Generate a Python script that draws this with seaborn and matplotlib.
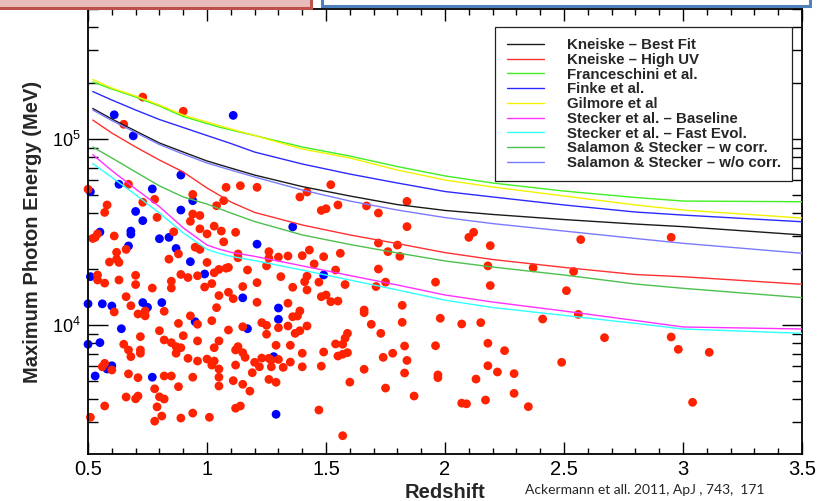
import numpy as np
import pandas as pd
import matplotlib
matplotlib.use("Agg")
import matplotlib.pyplot as plt
import seaborn as sns
from matplotlib.ticker import LogLocator, MultipleLocator, FuncFormatter, NullFormatter
from matplotlib.patches import Rectangle

# EBL model curves: maximum photon energy (MeV) vs redshift
z_grid = [0.52, 0.6, 0.7, 0.8, 0.9, 1.0, 1.05, 1.1, 1.2, 1.4, 1.6, 1.8, 2.0, 2.2, 2.5, 2.8, 3.0, 3.5]

kneiske_best = [145900, 128100, 110400, 95200, 85100, 76200, 72900, 69800, 64000,
                55500, 49400, 44400, 41300, 39300, 36900, 34900, 33800, 30500]
kneiske_high_uv = [126500, 107700, 90600, 77100, 66500, 54500, 50000, 45850, 40300,
                   34500, 30500, 27400, 24500, 22500, 20400, 18680, 18180, 16550]
franceschini = [202500, 185700, 168200, 150400, 132100, 121100, 116000, 111800, 104400,
                90600, 81000, 71100, 63300, 58000, 52500, 48500, 46400, 46000]
finke = [180000, 162100, 143200, 127300, 115300, 104400, 99400, 94600, 85100,
         73400, 64800, 58000, 52200, 48800, 44200, 40500, 39000, 35900]
gilmore = [208900, 188000, 170300, 152300, 134600, 123400, 118200, 113200, 104400,
           88400, 79100, 68100, 60200, 55200, 49400, 44200, 41500, 37600]
stecker_base = [82400, 67600, 53900, 43300, 33300, 26900, 25600, 24600, 23400,
                20800, 18450, 16410, 14500, 13290, 11890, 10570, 9760, 9520]
stecker_fast = [73800, 62200, 50200, 40000, 31300, 25500, 24300, 23400, 22200,
                19730, 17460, 15430, 13600, 12420, 11260, 10200, 9520, 9020]
salamon_w = [90600, 79100, 66500, 56000, 48800, 44700, 42300, 40000, 36000,
             30500, 27100, 24400, 22100, 20500, 18570, 16610, 15750, 14030]
salamon_wo = [143200, 125700, 108400, 93400, 83000, 74300, 71100, 68100, 62500,
              53200, 46400, 41500, 37800, 35100, 32000, 29200, 27500, 24300]

models = ["Kneiske \u2013 Best Fit", "Kneiske \u2013 High UV", "Franceschini et al.",
          "Finke et al.", "Gilmore et al", "Stecker et al. \u2013 Baseline",
          "Stecker et al. \u2013 Fast Evol.", "Salamon & Stecker \u2013 w corr.",
          "Salamon & Stecker \u2013 w/o corr."]
model_values = [kneiske_best, kneiske_high_uv, franceschini, finke, gilmore,
                stecker_base, stecker_fast, salamon_w, salamon_wo]
model_colors = ["#1a1a1a", "#ff3030", "#40f020", "#2a2aff", "#f2f200",
                "#ff30ff", "#30ffff", "#4cc04c", "#7a7aff"]

# blazars (blue) and other sources (red): redshift and highest photon energy (MeV)
blue_z = [0.61, 0.69, 1.11, 0.89, 0.51, 0.63, 0.77, 0.70, 0.73, 0.89,
          0.94, 1.21, 0.80, 0.84, 0.68, 0.68, 0.55, 0.67, 0.87, 0.93,
          0.99, 0.51, 1.15, 0.50, 0.56, 0.60, 0.73, 0.75, 0.81, 0.64,
          0.50, 0.55, 0.95, 1.17, 0.60, 0.58, 0.53, 0.77, 1.36, 1.49,
          1.30, 1.30, 1.28, 1.29]
blue_E = [135000, 104000, 134000, 64000, 52100, 57100, 53900, 40800, 36400, 41500,
          46600, 27200, 29100, 29600, 32000, 30800, 31600, 26600, 25800, 21900,
          18800, 18200, 14000, 13000, 13000, 12650, 13200, 12450, 13200, 9550,
          7880, 8040, 10420, 9550, 6040, 5800, 5320, 5240, 33700, 18570,
          12340, 10730, 6760, 3310]

red_z = [
    # top
    0.73, 0.90, 0.65,
    # z < 1.25, upper
    0.50, 0.67, 0.78, 0.73, 0.58, 0.57, 0.79, 0.94, 1.08, 1.14,
    1.21, 1.07, 1.04, 0.94, 0.97, 0.93, 0.97, 1.03, 1.00, 1.06,
    1.12, 1.07, 0.86, 0.54, 0.52, 0.53, 0.61, 0.66, 0.62, 0.62,
    0.59, 0.63, 0.84, 0.88, 0.95, 0.97, 1.00, 1.13, 1.13, 1.17,
    1.03, 1.05, 1.08, 1.09, 0.96, 0.92, 0.89, 0.70, 0.70, 0.63,
    0.54, 0.54, 0.57, 0.85, 0.85, 0.77, 0.99, 1.02, 1.05, 1.09,
    1.15, 1.11, 1.21, 1.21, 0.66,
    # z < 1.25, lower
    0.61, 0.68, 0.74, 0.74, 0.71, 0.82, 0.65, 0.67, 0.68, 0.72,
    0.72, 0.72, 0.80, 0.88, 0.93, 0.96, 1.04, 1.02, 0.90, 0.82,
    0.85, 0.87, 0.89, 0.87, 0.96, 1.05, 1.03, 1.09, 1.15, 1.23,
    1.25, 1.25, 1.12, 1.13, 1.15, 1.16, 1.12, 1.20, 1.23, 1.26,
    1.22, 1.19, 0.92, 0.96, 1.00, 1.02, 1.03, 1.05, 1.05, 1.05,
    1.11, 1.15, 1.18, 1.26, 0.57, 0.56, 0.60, 0.67, 0.71, 0.82,
    0.85, 0.78, 0.88, 0.94, 0.80, 0.82, 0.66, 0.70, 0.71, 0.57,
    0.79, 0.51, 0.78, 0.81, 0.89, 0.94, 1.01, 1.12, 1.14,
    # 1.25 < z < 2, upper
    1.52, 1.42, 1.39, 1.50, 1.48, 1.55, 1.67, 1.72, 1.84, 1.84,
    1.72, 1.80, 1.76, 1.81, 1.26, 1.26, 1.30, 1.34, 1.40, 1.43,
    1.49, 1.56, 1.25, 1.45, 1.31, 1.54, 1.42, 1.41, 1.42, 1.36,
    1.47, 1.58, 1.72, 1.75, 1.71, 1.96, 1.48, 1.50, 1.52, 1.55,
    1.34, 1.82,
    # 1.25 < z < 2, lower
    1.36, 1.38, 1.39, 1.66, 1.66, 1.82, 1.98, 1.69, 1.73, 1.59,
    1.58, 1.57, 1.54, 1.59, 1.57, 1.55, 1.49, 1.48, 1.30, 1.34,
    1.37, 1.39, 1.42, 1.29, 1.35, 1.40, 1.27, 1.30, 1.27, 1.35,
    1.32, 1.40, 1.29, 1.60, 1.66, 1.74, 1.78, 1.83, 1.84, 1.83,
    1.75, 1.87, 1.96, 1.97, 1.97, 1.47, 1.57,
    # z > 2
    2.10, 2.12, 2.19, 2.57, 2.18, 2.37, 2.54, 2.19, 2.51, 2.07,
    2.15, 2.41, 2.56, 2.67, 2.18, 2.25, 2.49, 2.18, 2.22, 2.29,
    2.13, 2.29, 2.17, 2.07, 2.09, 2.35, 2.95, 2.95, 2.98, 3.11,
    3.04,
]
red_E = [
    168000, 141000, 120000,
    53700, 57100, 47400, 45700, 44200, 40300, 37900, 50400, 55000, 56100,
    55000, 46600, 43800, 39500, 38800, 36100, 32900, 34000, 30900, 32000,
    31500, 28000, 31700, 30900, 29200, 29600, 30100, 25500, 24600, 22600,
    21800, 21700, 22600, 24100, 26200, 25500, 21700, 24100, 23000, 19760,
    19100, 19900, 20200, 20400, 18400, 18000, 18700, 18500, 16500, 17460,
    18570, 17460, 16800, 17200, 15800, 15800, 16000, 16700, 14400, 15000,
    16100, 13850, 16900, 13250, 14200,
    11750, 12700, 11900, 11200, 11460, 11850, 7880, 7340, 6760, 8660,
    7340, 7050, 9320, 10200, 11200, 10090, 12400, 10550, 8760, 8310,
    8040, 7650, 7550, 7050, 8210, 8210, 7550, 9400, 9790, 10300,
    9960, 8920, 7340, 7650, 7100, 6700, 6090, 6300, 6640, 6620,
    5960, 5540, 6620, 6400, 6560, 6090, 6400, 5800, 5240, 4700,
    5020, 4800, 4410, 5100, 6220, 5960, 5730, 5460, 5210, 5320,
    5320, 4540, 4660, 5240, 4110, 4000, 4100, 4010, 4150, 3670,
    3630, 3190, 3040, 3240, 3160, 3360, 3190, 3570, 3670,
    56800, 51900, 48800, 42200, 41300, 44200, 43700, 40000, 46200, 33800,
    27600, 26900, 24800, 23400, 24800, 22900, 23200, 23500, 23600, 25300,
    23300, 24300, 20800, 21300, 18200, 19760, 18300, 17100, 15430, 15950,
    17000, 16500, 20000, 17000, 16100, 17000, 14200, 14500, 13350, 13450,
    13100, 12760,
    11080, 11180, 11900, 12040, 11650, 10340, 10870, 10090, 9020, 9020,
    8490, 7880, 7910, 7100, 6960, 6810, 7160, 6010, 9670, 9880,
    9020, 9320, 9880, 7780, 7780, 7050, 6480, 6530, 5960, 6320,
    5920, 5960, 4920, 4930, 5780, 6700, 7050, 7710, 6450, 5520,
    4580, 4150, 7740, 5390, 5210, 3490, 2540,
    29600, 31500, 26700, 28800, 20800, 20300, 19400, 16300, 15300, 10130,
    10300, 10770, 11400, 8550, 7980, 7280, 6300, 6040, 5590, 5480,
    5120, 4290, 3950, 3800, 3770, 3640, 29600, 8620, 7400, 7130,
    3840,
]

sns.set_theme(style="ticks")
plt.rcParams['font.family'] = ['Liberation Sans', 'DejaVu Sans']
plt.rcParams['axes.edgecolor'] = 'black'
plt.rcParams['xtick.color'] = 'black'
plt.rcParams['ytick.color'] = 'black'

points = pd.concat([
    pd.DataFrame({'z': blue_z, 'E': blue_E, 'kind': 'blue'}),
    pd.DataFrame({'z': red_z, 'E': red_E, 'kind': 'red'}),
], ignore_index=True)

curves = pd.concat([
    pd.DataFrame({'z': z_grid, 'E': vals, 'model': name})
    for name, vals in zip(models, model_values)
], ignore_index=True)

fig = plt.figure(figsize=(8.25, 5.01), dpi=100)
ax = fig.add_axes([0.1067, 0.0938, 0.8655, 0.8882])

sns.scatterplot(data=points, x='z', y='E', hue='kind',
                palette={'blue': '#0000ff', 'red': '#ff2200'},
                s=40, linewidth=0, legend=False, ax=ax, zorder=2, clip_on=False)
sns.lineplot(data=curves, x='z', y='E', hue='model', hue_order=models,
             palette=dict(zip(models, model_colors)), estimator=None, sort=False,
             linewidth=1.0, ax=ax, zorder=3)

ax.set_yscale('log')
ax.set_xlim(0.5, 3.5)
ax.set_ylim(2025, 5.0e5)

ax.xaxis.set_major_locator(MultipleLocator(0.5))
ax.xaxis.set_minor_locator(MultipleLocator(0.1))
ax.xaxis.set_major_formatter(FuncFormatter(lambda v, p: f'{v:g}'))
ax.yaxis.set_major_locator(LogLocator(base=10, numticks=10))
ax.yaxis.set_minor_locator(LogLocator(base=10, subs=np.arange(2, 10), numticks=20))
ax.yaxis.set_major_formatter(FuncFormatter(lambda v, p: r'$\mathregular{10^{%d}}$' % round(np.log10(v))))
ax.yaxis.set_minor_formatter(NullFormatter())

ax.tick_params(which='both', direction='in', top=True, right=True, width=1)
ax.tick_params(axis='x', which='major', length=8.6, labelsize=14.5, pad=4)
ax.tick_params(axis='x', which='minor', length=4.3)
ax.tick_params(axis='y', which='major', length=14.4, labelsize=13, pad=5)
ax.tick_params(axis='y', which='minor', length=7.2)
for sp in ax.spines.values():
    sp.set_linewidth(1.3)
    sp.set_color('black')

ax.set_xlabel('Redshift', fontsize=14.5, fontweight='bold')
ax.xaxis.set_label_coords(0.5, -0.066)
ax.set_ylabel('Maximum Photon Energy (MeV)', fontsize=14.5, fontweight='bold')
ax.yaxis.set_label_coords(-0.065, 0.5)

handles, labels = ax.get_legend_handles_labels()
leg = ax.legend(handles, labels, loc='upper right', bbox_to_anchor=(0.986, 0.9596),
                borderaxespad=0, frameon=True, fancybox=False, framealpha=1,
                edgecolor='#222222', prop={'weight': 'bold', 'size': 10.8},
                labelspacing=0.05, handlelength=2.5, handletextpad=1.5, borderpad=0.75)
leg.get_frame().set_linewidth(0.9)

fig.text(0.636, 0.022, 'Ackermann et all. 2011, ApJ , 743,  171',
         fontsize=10, family=['Lato', 'DejaVu Sans'], ha='left', va='center')

# slide decorations at the top edge
fig.add_artist(Rectangle((-0.01, 0.985), 0.387, 0.03, transform=fig.transFigure,
                         facecolor='#e8bcbb', edgecolor='#c0504d', linewidth=2.2,
                         clip_on=False, zorder=10))
fig.add_artist(Rectangle((0.3897, 0.988), 0.592, 0.03, transform=fig.transFigure,
                         facecolor='white', edgecolor='#4f81bd', linewidth=2.2,
                         clip_on=False, zorder=10))

fig.savefig('out.png', dpi=100)
